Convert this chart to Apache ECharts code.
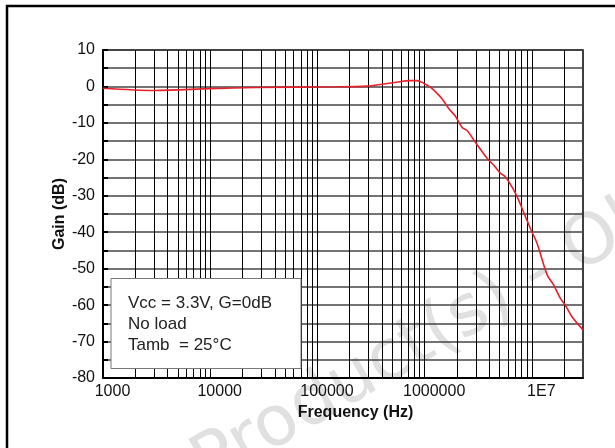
<!DOCTYPE html>
<html>
<head>
<meta charset="utf-8">
<script src="https://cdn.jsdelivr.net/npm/echarts@6/dist/echarts.min.js"></script>
<style>
html, body { margin: 0; padding: 0; background: #fff; }
#main { width: 615px; height: 448px; }
</style>
</head>
<body>
<div id="main"></div>
<script>
// frequency response
var freqHz = [1000, 3000, 10000, 27000, 150000, 290000, 400000, 590000, 710000, 850000,
	980000, 1130000, 1310000, 1500000, 1670000, 1930000, 2230000, 2490000, 2970000, 3820000,
	4410000, 5080000, 5660000, 6770000, 7530000, 8700000, 9680000, 11200000, 13900000,
	16000000, 18400000, 20500000, 23700000, 30000000];
var gainDb = [-0.5, -1.1, -0.6, -0.3, -0.1, 0.1, 0.6, 1.3, 1.6, 1.6,
	0.9, -0.2, -1.9, -3.9, -6.0, -8.1, -11.2, -12.1, -15.3, -19.7,
	-21.6, -23.8, -24.8, -28.4, -31.2, -35.7, -38.9, -43.1, -51.7,
	-54.5, -58.1, -60.0, -63.2, -66.8];

var xTickValues = [1000, 10000, 100000, 1000000, 10000000];
var xTickLabels = ['1000', '10000', '100000', '1000000', '1E7'];
var noteLines = ['Vcc = 3.3V, G=0dB', 'No load', 'Tamb  = 25\u00B0C'];

// vertical grid lines of the log paper (1..9 per decade)
var gridFreqs = [];
for (var d = 1000; d <= 10000000; d *= 10) {
	for (var k = 1; k <= 9; k++) {
		var f = k * d;
		if (f > 1000 && f < 30000000) gridFreqs.push(f);
	}
}

function xLabel(v) {
	for (var i = 0; i < xTickValues.length; i++) {
		if (Math.abs(v - xTickValues[i]) < xTickValues[i] * 1e-6) return xTickLabels[i];
	}
	return '';
}

var font = '"Liberation Sans", Arial, sans-serif';
var points = [];
for (var i = 0; i < freqHz.length; i++) points.push([freqHz[i], gainDb[i]]);

var option = {
	animation: false,
	grid: {
		left: 103, right: 32, top: 50, bottom: 70,
		show: true, borderColor: '#000', borderWidth: 1.5, backgroundColor: 'transparent'
	},
	xAxis: {
		type: 'log', logBase: 10, min: 1000, max: 30000000,
		name: 'Frequency (Hz)', nameLocation: 'middle', nameGap: 27, nameMoveOverlap: false,
		nameTextStyle: { fontFamily: font, fontSize: 16, fontWeight: 'bold', color: '#111', padding: [0, 0, 0, 25] },
		axisLine: { onZero: false, lineStyle: { color: '#000', width: 2 } },
		axisTick: { show: false },
		splitLine: { show: false },
		axisLabel: {
			formatter: xLabel, fontFamily: font, fontSize: 16, color: '#111',
			margin: 6, padding: [0, 0, 0, 19]
		}
	},
	yAxis: {
		type: 'value', min: -80, max: 10, interval: 5,
		name: 'Gain (dB)', nameLocation: 'middle', nameGap: 35, nameMoveOverlap: false,
		nameTextStyle: { fontFamily: font, fontSize: 16, fontWeight: 'bold', color: '#111' },
		axisLine: { lineStyle: { color: '#000', width: 2 } },
		axisTick: { inside: true, length: 5, lineStyle: { color: '#000', width: 2 } },
		splitLine: { lineStyle: { color: '#444', width: 1.5 } },
		axisLabel: {
			formatter: function (v) { return v % 10 === 0 ? String(v) : ''; },
			fontFamily: font, fontSize: 16, color: '#111', margin: 8
		}
	},
	graphic: [
		{
			type: 'text', x: 199, y: 471, rotation: 30 * Math.PI / 180, z: -10, silent: true,
			style: {
				text: 'Product(s) - Obsolete', fill: '#e0e0e0',
				font: '70px "DejaVu Sans", sans-serif', textAlign: 'left', textVerticalAlign: 'middle'
			}
		},
		{
			type: 'rect', z: 100,
			shape: { x: 111, y: 278.5, width: 190, height: 90 },
			style: { fill: '#fff', stroke: '#777', lineWidth: 1 }
		},
		{
			type: 'text', z: 101, x: 128, y: 293,
			style: {
				text: noteLines.join('\n'), fill: '#222', font: '17px ' + font,
				lineHeight: 21, textAlign: 'left', textVerticalAlign: 'top'
			}
		},
		{
			type: 'rect', z: 100, silent: true,
			shape: { x: 7, y: 6, width: 640, height: 480 },
			style: { fill: 'none', stroke: '#000', lineWidth: 2.5 }
		}
	],
	series: [
		{
			type: 'line', data: [], silent: true,
			markLine: {
				silent: true, symbol: 'none', label: { show: false },
				lineStyle: { color: '#000', width: 1, type: 'solid' },
				data: gridFreqs.map(function (f) { return { xAxis: f }; })
			}
		},
		{
			type: 'line', data: points, smooth: 0.3, showSymbol: false, z: 5,
			lineStyle: { color: '#e8202a', width: 1.6 }
		}
	]
};

var chart = echarts.init(document.getElementById('main'), null, { renderer: 'canvas' });
chart.setOption(option);
</script>
</body>
</html>
